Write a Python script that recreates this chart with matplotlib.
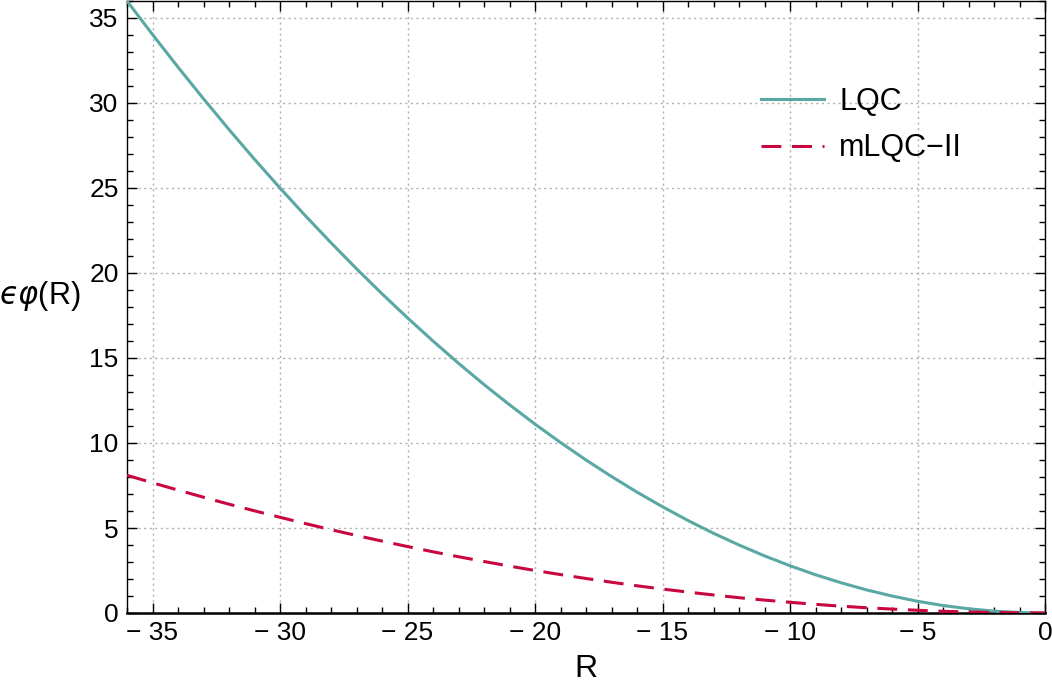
import matplotlib
matplotlib.use("Agg")
import matplotlib.pyplot as plt
from matplotlib.ticker import MultipleLocator

plt.rcParams['font.family'] = ['Liberation Sans', 'DejaVu Sans']
plt.rcParams['mathtext.fontset'] = 'dejavusans'

R = [-36, -35, -34, -33, -32, -31, -30, -29, -28, -27, -26, -25, -24, -23, -22, -21,
     -20, -19, -18, -17, -16, -15, -14, -13, -12, -11, -10, -9, -8, -7, -6, -5,
     -4, -3, -2, -1, 0]
lqc = [36.00, 34.03, 32.11, 30.25, 28.44, 26.69, 25.00, 23.36, 21.78, 20.25, 18.78,
       17.36, 16.00, 14.69, 13.44, 12.25, 11.11, 10.03, 9.00, 8.03, 7.11, 6.25, 5.44,
       4.69, 4.00, 3.36, 2.78, 2.25, 1.78, 1.36, 1.00, 0.69, 0.44, 0.25, 0.11, 0.03, 0.00]
mlqc2 = [8.10, 7.66, 7.23, 6.81, 6.40, 6.01, 5.63, 5.26, 4.90, 4.56, 4.23, 3.91, 3.60,
         3.31, 3.03, 2.76, 2.50, 2.26, 2.03, 1.81, 1.60, 1.41, 1.23, 1.06, 0.90, 0.76,
         0.63, 0.51, 0.40, 0.31, 0.23, 0.16, 0.10, 0.06, 0.03, 0.01, 0.00]
labels = ["LQC", "mLQC\u2212II"]
xticks = [-35, -30, -25, -20, -15, -10, -5, 0]
xticklabels = ["\u2212 35", "\u2212 30", "\u2212 25", "\u2212 20",
               "\u2212 15", "\u2212 10", "\u2212 5", "0"]

fig = plt.figure(figsize=(10.52, 6.94), dpi=100)
ax = fig.add_axes([127/1052, 81/694, 918/1052, 612/694])

ax.plot(R, lqc, color='#5aa8a4', lw=2.2, label=labels[0], zorder=3)
ax.plot(R, mlqc2, color='#c8073f', lw=2.2, ls=(0, (6.5, 3.5)), label=labels[1], zorder=3)

ax.set_xlim(-36, 0)
ax.set_ylim(0, 36)
ax.set_xticks(xticks)
ax.set_xticklabels(xticklabels)
ax.xaxis.set_minor_locator(MultipleLocator(1))
ax.yaxis.set_major_locator(MultipleLocator(5))
ax.yaxis.set_minor_locator(MultipleLocator(1))
ax.tick_params(which='both', direction='in', top=True, right=True, labelsize=19, width=1)
ax.tick_params(which='major', length=7, pad=6)
ax.tick_params(which='minor', length=4)
ax.grid(True, which='major', color='#b0b0b0', ls=(0, (1.5, 2.5)), lw=1)
for s in ['left', 'top', 'right']:
    ax.spines[s].set_linewidth(1)
ax.spines['bottom'].set_linewidth(1.8)

ax.set_xlabel('R', fontsize=23, labelpad=6)
ax.set_ylabel('$\u03f5\\varphi$(R)', fontsize=22, rotation=0)
ax.yaxis.set_label_coords(-0.095, 0.49)

ax.legend(loc='upper left', bbox_to_anchor=(0.691, 0.86), frameon=False, fontsize=22,
          handlelength=2.05, handletextpad=0.5, labelspacing=0.55, borderaxespad=0,
          borderpad=0)

fig.savefig('out.png', dpi=100)
